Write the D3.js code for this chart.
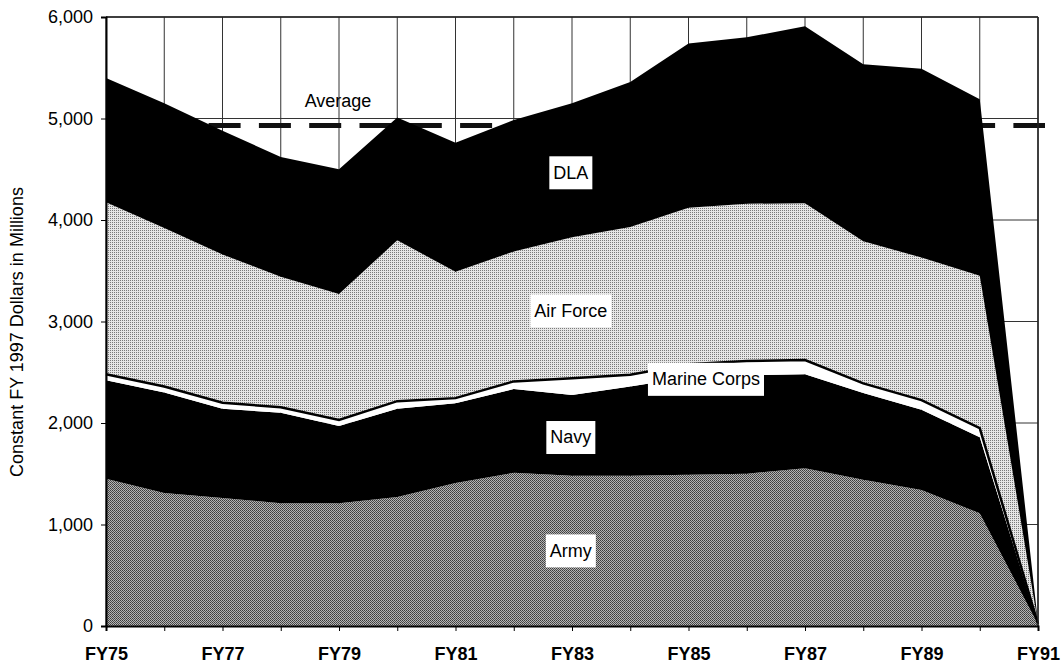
<!DOCTYPE html>
<html>
<head>
<meta charset="utf-8">
<script src="https://cdn.jsdelivr.net/npm/d3@7"></script>
<style>
  body { margin: 0; background: #fff; }
  svg { display: block; font-family: "Liberation Sans", Arial, Helvetica, sans-serif; }
</style>
</head>
<body>
<svg id="chart" width="1061" height="664"></svg>
<script>
const width = 1061;
const height = 664;
const margin = { top: 17, right: 23, bottom: 38, left: 106 };

// values (constant FY 1997 dollars in millions)
const years = ["FY75", "FY76", "FY77", "FY78", "FY79", "FY80", "FY81", "FY82", "FY83",
    "FY84", "FY85", "FY86", "FY87", "FY88", "FY89", "FY90", "FY91"];
const army = [1450, 1310, 1260, 1210, 1210, 1270, 1410, 1510, 1480, 1480, 1490, 1500, 1555, 1440, 1340, 1110, 15];
const navy = [970, 990, 880, 890, 760, 870, 785, 825, 795, 880, 960, 970, 925, 855, 790, 750, 5];
const marineCorps = [60, 60, 60, 55, 60, 75, 50, 75, 165, 115, 130, 140, 140, 95, 95, 90, 2];
const airForce = [1695, 1560, 1460, 1285, 1240, 1585, 1245, 1280, 1390, 1455, 1540, 1550, 1545, 1400, 1405, 1500, 5];
const dla = [1225, 1230, 1220, 1180, 1230, 1210, 1270, 1295, 1320, 1430, 1620, 1640, 1745, 1745, 1860, 1740, 5];
const average = 4930;
const yTicks = [0, 1000, 2000, 3000, 4000, 5000, 6000];
const xLabelYears = ["FY75", "FY77", "FY79", "FY81", "FY83", "FY85", "FY87", "FY89", "FY91"];

const seriesKeys = ["Army", "Navy", "Marine Corps", "Air Force", "DLA"];
const table = years.map((yr, i) => ({
    year: yr,
    "Army": army[i],
    "Navy": navy[i],
    "Marine Corps": marineCorps[i],
    "Air Force": airForce[i],
    "DLA": dla[i]
}));

const svg = d3.select("#chart");

// dither-like fills
const defs = svg.append("defs");
const armyPat = defs.append("pattern").attr("id", "armyPat")
    .attr("patternUnits", "userSpaceOnUse").attr("width", 2).attr("height", 2);
armyPat.append("rect").attr("width", 2).attr("height", 2).attr("fill", "#b4b4b4");
armyPat.append("rect").attr("x", 0).attr("y", 0).attr("width", 1).attr("height", 1).attr("fill", "#3c3c3c");
armyPat.append("rect").attr("x", 1).attr("y", 1).attr("width", 1).attr("height", 1).attr("fill", "#505050");

const afPat = defs.append("pattern").attr("id", "afPat")
    .attr("patternUnits", "userSpaceOnUse").attr("width", 2).attr("height", 2);
afPat.append("rect").attr("width", 2).attr("height", 2).attr("fill", "#e6e6e6");
afPat.append("rect").attr("x", 0).attr("y", 0).attr("width", 1).attr("height", 1).attr("fill", "#7a7a7a");

const fills = {
    "Army": "url(#armyPat)",
    "Navy": "#000",
    "Marine Corps": "#fff",
    "Air Force": "url(#afPat)",
    "DLA": "#000"
};

const x = d3.scalePoint()
    .domain(years)
    .range([margin.left, width - margin.right]);

const y = d3.scaleLinear()
    .domain([0, 6000])
    .range([height - margin.bottom, margin.top]);

// gridlines
const grid = svg.append("g").attr("class", "grid");
grid.selectAll("line.v")
    .data(years)
    .enter()
    .append("line")
    .attr("class", "v")
    .attr("x1", d => x(d)).attr("x2", d => x(d))
    .attr("y1", y(6000)).attr("y2", y(0))
    .attr("stroke", "#333")
    .attr("stroke-width", 1);
grid.selectAll("line.h")
    .data(yTicks)
    .enter()
    .append("line")
    .attr("class", "h")
    .attr("x1", x(years[0])).attr("x2", x(years[years.length - 1]))
    .attr("y1", d => y(d)).attr("y2", d => y(d))
    .attr("stroke", "#333")
    .attr("stroke-width", 1);

// average line (sits under the areas)
svg.append("line")
    .attr("x1", x(years[0]) + 2)
    .attr("x2", width - 16)
    .attr("y1", y(average))
    .attr("y2", y(average))
    .attr("stroke", "#111")
    .attr("stroke-width", 5)
    .attr("stroke-dasharray", "32,18.3");

svg.append("text")
    .attr("x", 338)
    .attr("y", 107)
    .attr("text-anchor", "middle")
    .attr("font-size", "18px")
    .attr("fill", "#000")
    .text("Average");

// stacked areas
const stack = d3.stack().keys(seriesKeys);
const layers = stack(table);

const area = d3.area()
    .x(d => x(d.data.year))
    .y0(d => y(d[0]))
    .y1(d => y(d[1]));

svg.append("g")
    .attr("class", "areas")
    .selectAll("path")
    .data(layers)
    .enter()
    .append("path")
    .attr("d", area)
    .attr("fill", d => fills[d.key]);

// black edge on top of the Marine Corps band
const marineLayer = layers.find(l => l.key === "Marine Corps");
svg.append("path")
    .datum(marineLayer)
    .attr("d", d3.line().x(d => x(d.data.year)).y(d => y(d[1])))
    .attr("fill", "none")
    .attr("stroke", "#000")
    .attr("stroke-width", 2.5);

// plot frame: top and right
svg.append("line")
    .attr("x1", x(years[0])).attr("x2", x(years[years.length - 1]))
    .attr("y1", y(6000)).attr("y2", y(6000))
    .attr("stroke", "#222").attr("stroke-width", 1.5);
svg.append("line")
    .attr("x1", x(years[years.length - 1])).attr("x2", x(years[years.length - 1]))
    .attr("y1", y(6000)).attr("y2", y(0))
    .attr("stroke", "#222").attr("stroke-width", 1.5);

// y axis
const yAxis = d3.axisLeft(y)
    .tickValues(yTicks)
    .tickFormat(d3.format(","))
    .tickSize(5)
    .tickPadding(8);

const yg = svg.append("g")
    .attr("class", "axis y")
    .attr("transform", `translate(${margin.left}, 0)`)
    .call(yAxis);
yg.select(".domain").attr("stroke", "#000").attr("stroke-width", 2);
yg.selectAll(".tick line").attr("stroke", "#000");
yg.selectAll(".tick text")
    .attr("font-size", "18px")
    .attr("font-family", "'Liberation Sans', Arial, sans-serif")
    .attr("fill", "#000");

// x axis
const xAxis = d3.axisBottom(x)
    .tickSize(5)
    .tickPadding(16)
    .tickFormat(d => xLabelYears.includes(d) ? d : "");

const xg = svg.append("g")
    .attr("class", "axis x")
    .attr("transform", `translate(0, ${y(0)})`)
    .call(xAxis);
xg.select(".domain").attr("stroke", "#000").attr("stroke-width", 2);
xg.selectAll(".tick line").attr("stroke", "#000");
xg.selectAll(".tick text")
    .attr("font-size", "18px")
    .attr("font-weight", "bold")
    .attr("font-family", "'Liberation Sans', Arial, sans-serif")
    .attr("fill", "#000");

// y axis title
svg.append("text")
    .attr("transform", `translate(23, 332) rotate(-90)`)
    .attr("text-anchor", "middle")
    .attr("font-size", "18px")
    .attr("fill", "#000")
    .text("Constant FY 1997 Dollars in Millions");

// series labels in white boxes
const labels = [
    { text: "DLA", at: 7.98, value: 4470 },
    { text: "Air Force", at: 7.98, value: 3110 },
    { text: "Marine Corps", at: 10.3, value: 2435 },
    { text: "Navy", at: 7.98, value: 1862 },
    { text: "Army", at: 7.98, value: 745 }
];
const xi = d3.scaleLinear().domain([0, years.length - 1]).range(x.range());

const lg = svg.append("g").attr("class", "labels")
    .selectAll("g")
    .data(labels)
    .enter()
    .append("g")
    .attr("transform", d => `translate(${xi(d.at)}, ${y(d.value)})`);

lg.append("rect").attr("fill", "#fff");
lg.append("text")
    .attr("text-anchor", "middle")
    .attr("dy", "0.35em")
    .attr("font-size", "18px")
    .attr("fill", "#000")
    .text(d => d.text);

lg.each(function () {
    const g = d3.select(this);
    const bb = g.select("text").node().getBBox();
    g.select("rect")
        .attr("x", bb.x - 4)
        .attr("y", -16)
        .attr("width", bb.width + 8)
        .attr("height", 33);
});
</script>
</body>
</html>
